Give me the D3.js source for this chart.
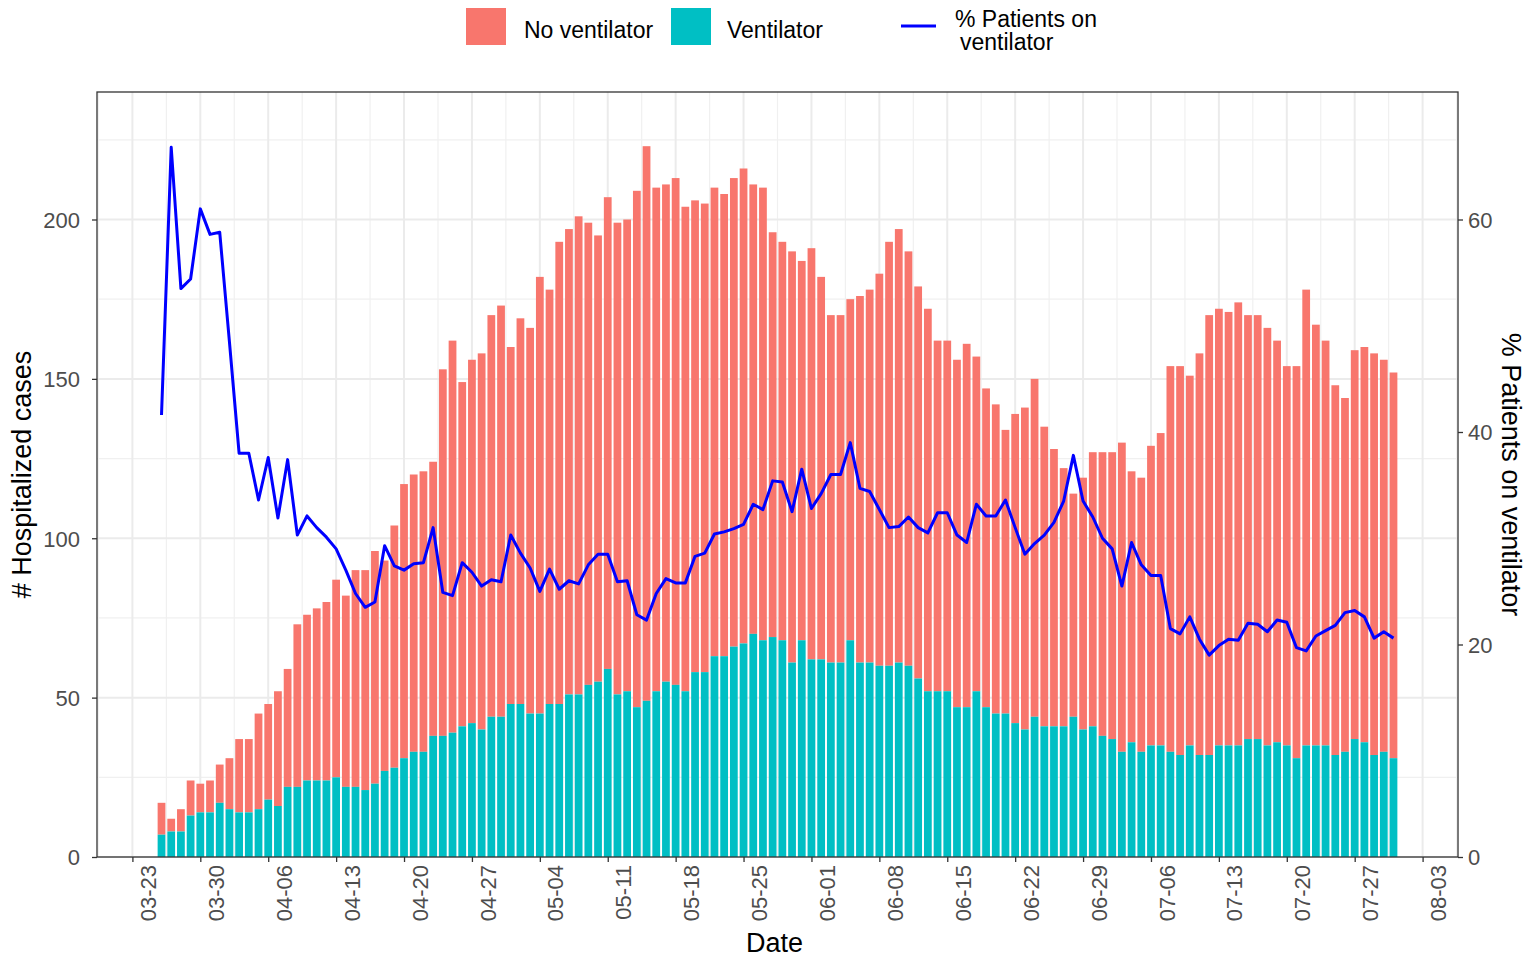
<!DOCTYPE html>
<html>
<head>
<meta charset="utf-8">
<script src="https://cdn.jsdelivr.net/npm/d3@7"></script>
<style>
    body { margin: 0; background: #fff; }
    #chart-area { width: 1526px; height: 959px; }
    text { font-family: "Liberation Sans", Arial, sans-serif; }
</style>
</head>
<body>
<div id="chart-area"></div>
<script>

// first day with data, one bar per day after that
const startDay = "2020-03-26";

// hospitalized cases per day (bar height)
const totalCases = [17, 12, 15, 24, 23, 24, 29, 31, 37, 37, 45, 48, 52, 59, 73, 76, 78, 80, 87, 82,
    90, 90, 96, 93, 104, 117, 120, 121, 124, 153, 162, 149, 156, 158, 170, 173, 160, 169, 166, 182,
    178, 193, 197, 201, 199, 195, 207, 199, 200, 209, 223, 210, 211, 213, 204, 206, 205, 210, 208, 213,
    216, 211, 210, 196, 193, 190, 187, 191, 182, 170, 170, 175, 176, 178, 183, 193, 197, 190, 179, 172,
    162, 162, 156, 161, 157, 147, 142, 134, 139, 141, 150, 135, 128, 122, 114, 119, 127, 127, 127, 130,
    121, 119, 129, 133, 154, 154, 151, 158, 170, 172, 171, 174, 170, 170, 166, 162, 154, 154, 178, 167,
    162, 148, 144, 159, 160, 158, 156, 152];

// of which on a ventilator
const ventCases = [7, 8, 8, 13, 14, 14, 17, 15, 14, 14, 15, 18, 16, 22, 22, 24, 24, 24, 25, 22,
    22, 21, 23, 27, 28, 31, 33, 33, 38, 38, 39, 41, 42, 40, 44, 44, 48, 48, 45, 45,
    48, 48, 51, 51, 54, 55, 59, 51, 52, 47, 49, 52, 55, 54, 52, 58, 58, 63, 63, 66,
    67, 70, 68, 69, 68, 61, 68, 62, 62, 61, 61, 68, 61, 61, 60, 60, 61, 60, 56, 52,
    52, 52, 47, 47, 52, 47, 45, 45, 42, 40, 44, 41, 41, 41, 44, 40, 41, 38, 37, 33,
    36, 33, 35, 35, 33, 32, 35, 32, 32, 35, 35, 35, 37, 37, 35, 36, 35, 31, 35, 35,
    35, 32, 33, 37, 36, 32, 33, 31];

// % patients on ventilator (right axis)
const pctVent = [41.6, 66.8, 53.5, 54.4, 61, 58.6, 58.8, 48.5, 38, 38, 33.6, 37.6, 31.9, 37.4, 30.3, 32.1, 31, 30.1, 29, 27,
    24.8, 23.5, 24, 29.3, 27.4, 27, 27.6, 27.7, 31, 24.9, 24.6, 27.7, 26.8, 25.5, 26.1, 25.9, 30.3, 28.6, 27.2, 25,
    27.1, 25.2, 26, 25.7, 27.5, 28.5, 28.5, 25.9, 26, 22.8, 22.3, 24.8, 26.2, 25.8, 25.8, 28.3, 28.6, 30.4, 30.6, 30.9,
    31.3, 33.2, 32.7, 35.4, 35.3, 32.5, 36.5, 32.8, 34.2, 36, 36, 39, 34.7, 34.4, 32.7, 31, 31.1, 32, 31, 30.5,
    32.4, 32.4, 30.3, 29.6, 33.2, 32.1, 32.1, 33.6, 31, 28.5, 29.5, 30.3, 31.5, 33.5, 37.8, 33.5, 32, 30, 29, 25.5,
    29.6, 27.5, 26.5, 26.5, 21.5, 21, 22.6, 20.5, 19, 19.9, 20.5, 20.4, 22, 21.9, 21.2, 22.3, 22.1, 19.7, 19.4, 20.8,
    21.3, 21.8, 23, 23.2, 22.6, 20.6, 21.2, 20.6];

const weekTicks = ["03-23", "03-30", "04-06", "04-13", "04-20", "04-27", "05-04", "05-11", "05-18", "05-25",
    "06-01", "06-08", "06-15", "06-22", "06-29", "07-06", "07-13", "07-20", "07-27", "08-03"];
const leftTicks = [0, 50, 100, 150, 200];
const rightTicks = [0, 20, 40, 60];

const seriesNames = ["No ventilator", "Ventilator"];
const seriesColors = ["#F8766D", "#00BFC4"];


class VentChart {

    constructor(parentElement) {
        this.parentElement = parentElement;
        this.displayData = [];
        this.initVis();
    }

    initVis() {
        let vis = this;

        vis.panel = {left: 97, right: 1458, top: 92, bottom: 857};

        vis.svg = d3.select("#" + vis.parentElement).append("svg")
            .attr("width", 1526)
            .attr("height", 959);

        let first = d3.utcParse("%Y-%m-%d")(startDay);
        vis.dates = totalCases.map((d, i) => d3.utcDay.offset(first, i));

        // 6.65 days of padding on each side, like ggplot's default expansion
        let pad = 6.65 * 864e5;
        vis.x = d3.scaleUtc()
            .domain([+vis.dates[0] - pad, +vis.dates[vis.dates.length - 1] + pad])
            .range([vis.panel.left, vis.panel.right]);

        vis.y = d3.scaleLinear().domain([0, 240]).range([vis.panel.bottom, vis.panel.top]);
        vis.yRight = d3.scaleLinear().domain([0, 72]).range([vis.panel.bottom, vis.panel.top]);

        vis.wrangleData();
    }

    wrangleData() {
        let vis = this;
        vis.displayData = vis.dates.map((d, i) => ({
            date: d,
            total: totalCases[i],
            vent: ventCases[i],
            pct: pctVent[i]
        }));
        vis.tickDates = weekTicks.map(s => d3.utcParse("%Y-%m-%d")("2020-" + s));
        vis.updateVis();
    }

    updateVis() {
        let vis = this;
        let p = vis.panel;

        // grid: minor first, then major
        let minorX = vis.tickDates.slice(0, -1).map(d => d3.utcHour.offset(d, 84));
        minorX.unshift(d3.utcHour.offset(vis.tickDates[0], -84));
        minorX.push(d3.utcHour.offset(vis.tickDates[vis.tickDates.length - 1], 84));
        let grid = vis.svg.append("g").attr("class", "grid");

        grid.selectAll(".minor-x").data(minorX.filter(d => vis.x(d) > p.left && vis.x(d) < p.right))
            .enter().append("line")
            .attr("x1", d => vis.x(d)).attr("x2", d => vis.x(d))
            .attr("y1", p.top).attr("y2", p.bottom)
            .attr("stroke", "#f0f0f0").attr("stroke-width", 1.2);

        grid.selectAll(".minor-y").data([25, 75, 125, 175, 225])
            .enter().append("line")
            .attr("x1", p.left).attr("x2", p.right)
            .attr("y1", d => vis.y(d)).attr("y2", d => vis.y(d))
            .attr("stroke", "#f0f0f0").attr("stroke-width", 1.2);

        grid.selectAll(".major-x").data(vis.tickDates)
            .enter().append("line")
            .attr("x1", d => vis.x(d)).attr("x2", d => vis.x(d))
            .attr("y1", p.top).attr("y2", p.bottom)
            .attr("stroke", "#ebebeb").attr("stroke-width", 2);

        grid.selectAll(".major-y").data(leftTicks)
            .enter().append("line")
            .attr("x1", p.left).attr("x2", p.right)
            .attr("y1", d => vis.y(d)).attr("y2", d => vis.y(d))
            .attr("stroke", "#ebebeb").attr("stroke-width", 2);

        // stacked bars
        let dayW = vis.x(vis.dates[1]) - vis.x(vis.dates[0]);
        let barW = dayW * 0.8;

        vis.svg.append("g").selectAll("rect.novent")
            .data(vis.displayData)
            .enter().append("rect")
            .attr("class", "novent")
            .attr("x", d => vis.x(d.date) - barW / 2)
            .attr("y", d => vis.y(d.total))
            .attr("width", barW)
            .attr("height", d => vis.y(d.vent) - vis.y(d.total))
            .attr("fill", seriesColors[0]);

        vis.svg.append("g").selectAll("rect.vent")
            .data(vis.displayData)
            .enter().append("rect")
            .attr("class", "vent")
            .attr("x", d => vis.x(d.date) - barW / 2)
            .attr("y", d => vis.y(d.vent))
            .attr("width", barW)
            .attr("height", d => vis.y(0) - vis.y(d.vent))
            .attr("fill", seriesColors[1]);

        // percent line
        let line = d3.line()
            .x(d => vis.x(d.date))
            .y(d => vis.yRight(d.pct));

        vis.svg.append("path")
            .datum(vis.displayData)
            .attr("d", line)
            .attr("fill", "none")
            .attr("stroke", "#0000FF")
            .attr("stroke-width", 3)
            .attr("stroke-linejoin", "round");

        // panel border
        vis.svg.append("rect")
            .attr("x", p.left).attr("y", p.top)
            .attr("width", p.right - p.left).attr("height", p.bottom - p.top)
            .attr("fill", "none").attr("stroke", "#333333").attr("stroke-width", 1.3);

        // axes
        let xAxis = d3.axisBottom(vis.x).tickValues(vis.tickDates).tickFormat(d3.utcFormat("%m-%d")).tickSizeOuter(0).tickSize(5);
        let yAxis = d3.axisLeft(vis.y).tickValues(leftTicks).tickSizeOuter(0).tickSize(5);
        let yAxisR = d3.axisRight(vis.yRight).tickValues(rightTicks).tickSizeOuter(0).tickSize(5);

        let gx = vis.svg.append("g").attr("class", "x-axis")
            .attr("transform", `translate(0, ${p.bottom})`).call(xAxis);
        gx.selectAll("text")
            .attr("transform", "rotate(-90)")
            .attr("x", -8).attr("y", 0).attr("dy", "1.05em")
            .attr("text-anchor", "end");

        let gy = vis.svg.append("g").attr("class", "y-axis")
            .attr("transform", `translate(${p.left}, 0)`).call(yAxis);
        gy.selectAll("text").attr("x", -17).attr("dy", "0.36em");

        let gyr = vis.svg.append("g").attr("class", "y-axis-right")
            .attr("transform", `translate(${p.right}, 0)`).call(yAxisR);
        gyr.selectAll("text").attr("x", 10).attr("dy", "0.36em");

        vis.svg.selectAll(".x-axis, .y-axis, .y-axis-right").each(function () {
            let g = d3.select(this);
            g.select(".domain").remove();
            g.selectAll("line").attr("stroke", "#333333").attr("stroke-width", 1.3);
            g.selectAll("text").attr("fill", "#4d4d4d").attr("font-size", "22px")
                .attr("font-family", "'Liberation Sans', Arial, sans-serif");
        });

        // axis titles
        vis.svg.append("text")
            .attr("x", (p.left + p.right) / 2 - 3).attr("y", 952)
            .attr("text-anchor", "middle").attr("font-size", "27px")
            .text("Date");

        vis.svg.append("text")
            .attr("transform", `translate(31, ${(p.top + p.bottom) / 2}) rotate(-90)`)
            .attr("text-anchor", "middle").attr("font-size", "27px")
            .text("# Hospitalized cases");

        vis.svg.append("text")
            .attr("transform", `translate(1502, ${(p.top + p.bottom) / 2}) rotate(90)`)
            .attr("text-anchor", "middle").attr("font-size", "27px")
            .text("% Patients on ventilator");

        // legend
        let legend = vis.svg.append("g").attr("class", "legend");
        let keyX = [466, 671];
        let labelX = [524, 727];
        seriesNames.forEach((name, i) => {
            legend.append("rect")
                .attr("x", keyX[i]).attr("y", 8)
                .attr("width", 40).attr("height", 37)
                .attr("fill", seriesColors[i]);
            legend.append("text")
                .attr("x", labelX[i]).attr("y", 38)
                .attr("font-size", "23px")
                .text(name);
        });
        legend.append("line")
            .attr("x1", 901).attr("x2", 936)
            .attr("y1", 26).attr("y2", 26)
            .attr("stroke", "#0000FF").attr("stroke-width", 3);
        legend.append("text")
            .attr("x", 955).attr("y", 27).attr("font-size", "23px")
            .text("% Patients on");
        legend.append("text")
            .attr("x", 960).attr("y", 50).attr("font-size", "23px")
            .text("ventilator");
    }
}

new VentChart("chart-area");
</script>
</body>
</html>
